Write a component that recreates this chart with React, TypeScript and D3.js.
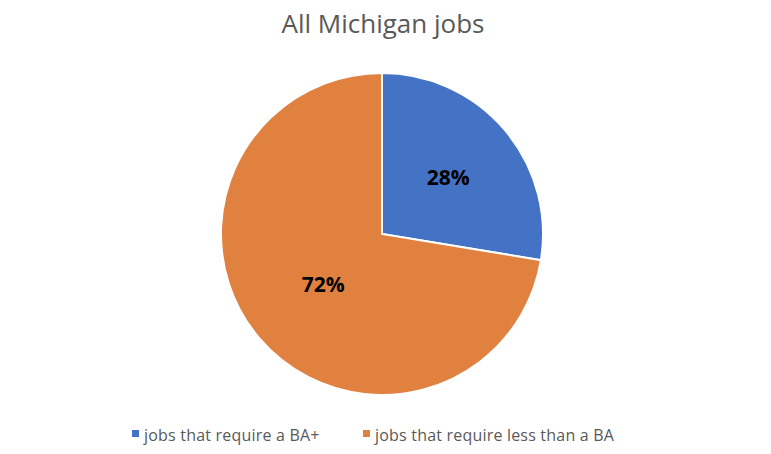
import React from "react";
import * as d3 from "d3";

const categories = ["jobs that require a BA+", "jobs that require less than a BA"];
const values = [27.6, 72.4];
const sliceLabels = ["28%", "72%"];
const colors = ["#4472C4", "#E1813F"];
const title = "All Michigan jobs";
const labelRadiusFactor = [0.54, 0.48];

export default function App() {
  const W = 771, H = 454;
  const cx = 382, cy = 234, r = 161;
  const pie = d3.pie<number>().sort(null).value((d) => d)(values);
  const arc = d3.arc<d3.PieArcDatum<number>>().innerRadius(0).outerRadius(r);
  const legendX = [131, 362];
  return (
    <svg width={W} height={H} style={{ position: "absolute", left: 0, top: 0, background: "#fff" }}>
      <text x={383} y={33} textAnchor="middle" fontFamily="Open Sans, sans-serif" fontSize={26} fill="#595959">
        {title}
      </text>
      <g transform={`translate(${cx},${cy})`}>
        {pie.map((p, i) => (
          <path key={i} d={arc(p) || ""} fill={colors[i]} stroke="#fff" strokeWidth={2} />
        ))}
        {pie.map((p, i) => {
          const lr = r * labelRadiusFactor[i];
          const [x, y] = d3.arc<d3.PieArcDatum<number>>().innerRadius(lr).outerRadius(lr).centroid(p);
          return (
            <text key={i} x={x} y={y} dy="0.36em" textAnchor="middle" fontFamily="Open Sans, sans-serif" fontWeight="bold" fontSize={21} fill="#000">
              {sliceLabels[i]}
            </text>
          );
        })}
      </g>
      {categories.map((c, i) => (
        <g key={i}>
          <rect x={legendX[i] + 1} y={430} width={7} height={7} fill={colors[i]} />
          <text x={legendX[i] + 13} y={441} fontFamily="Open Sans, sans-serif" fontSize={16} letterSpacing={0.2} fill="#595959">
            {c}
          </text>
        </g>
      ))}
    </svg>
  );
}
